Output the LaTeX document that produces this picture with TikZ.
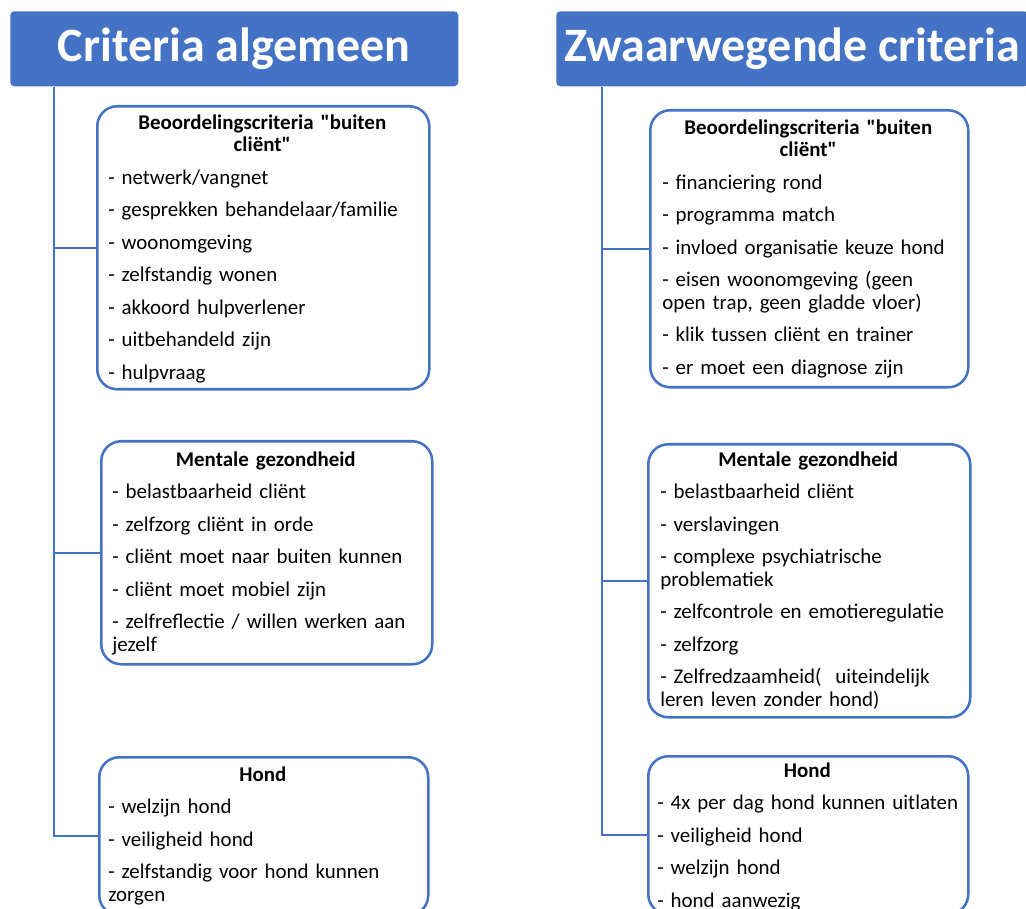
\documentclass[tikz,border=0pt]{standalone}
\usepackage{fontspec}
\setmainfont{Carlito}[Ligatures=TeXOff]
\usetikzlibrary{calc}
\definecolor{accent}{HTML}{4472C4}
\begin{document}
\begin{tikzpicture}[x=0.75pt,y=-0.75pt,
 head/.style={fill=accent, rounded corners=3pt, text=white, font=\fontsize{36}{40}\selectfont\bfseries, inner sep=0, anchor=north west},
 card/.style={draw=accent, line width=1.9pt, fill=white, rounded corners=15pt, anchor=north west, inner sep=0},
 txt/.style={anchor=north west, inner sep=0, align=left, font=\fontsize{15.7}{16.875}\selectfont,
   execute at begin node={\setlength{\parskip}{7.5pt}\setlength{\parindent}{0pt}\hyphenpenalty=10000\exhyphenpenalty=10000\hfuzz=20pt}},
 conn/.style={draw=accent, line width=1.6pt}]
\useasboundingbox (0,0) rectangle (1026,909);
\clip (0,0) rectangle (1026,909);

% headers
\node[head, minimum width={448*0.75pt}, minimum height={75*0.75pt}] (HL) at (10,11) {\raisebox{-1.5pt}{Criteria algemeen}};
\node[head, minimum width={472*0.75pt}, minimum height={75*0.75pt}] (HR) at (556,11) {\raisebox{-1.5pt}{Zwaarwegende criteria}};

% cards left
\node[card, minimum width={332*0.75pt}, minimum height={283*0.75pt}] (L1) at (96,105) {};
\node[card, minimum width={331*0.75pt}, minimum height={223*0.75pt}] (L2) at (100,440) {};
\node[card, minimum width={329*0.75pt}, minimum height={158*0.75pt}] (L3) at (98,756) {};
% cards right
\node[card, minimum width={318*0.75pt}, minimum height={277*0.75pt}] (R1) at (649,109) {};
\node[card, minimum width={322*0.75pt}, minimum height={273*0.75pt}] (R2) at (647,443) {};
\node[card, minimum width={320*0.75pt}, minimum height={158*0.75pt}] (R3) at (647,755) {};

% texts left
\node[txt, text width={308*0.75pt}] (tL1) at ([shift={(12,8)}]L1.north west) {%
{\centering\bfseries\rule{0pt}{12pt}Beoordelingscriteria "buiten\\cliënt"\par}
- netwerk/vangnet\par
- gesprekken behandelaar/familie\par
- woonomgeving\par
- zelfstandig wonen\par
- akkoord hulpverlener\par
- uitbehandeld zijn\par
- hulpvraag};
\node[txt, text width={307*0.75pt}] (tL2) at ([shift={(12,10)}]L2.north west) {%
{\centering\bfseries\rule{0pt}{12pt}Mentale gezondheid\par}
- belastbaarheid cliënt\par
- zelfzorg cliënt in orde\par
- cliënt moet naar buiten kunnen\par
- cliënt moet mobiel zijn\par
- zelfreflectie / willen werken aan\newline jezelf};
\node[txt, text width={309*0.75pt}] (tL3) at ([shift={(10,9)}]L3.north west) {%
{\centering\bfseries\rule{0pt}{12pt}Hond\par}
- welzijn hond\par
- veiligheid hond\par
- zelfstandig voor hond kunnen\newline zorgen};

% texts right
\node[txt, text width={292*0.75pt}] (tR1) at ([shift={(13,9)}]R1.north west) {%
{\centering\bfseries\rule{0pt}{12pt}Beoordelingscriteria "buiten\\cliënt"\par}
- financiering rond\par
- programma match\par
- invloed organisatie keuze hond\par
- eisen woonomgeving (geen\newline open trap, geen gladde vloer)\par
- klik tussen cliënt en trainer\par
- er moet een diagnose zijn};
\node[txt, text width={296*0.75pt}] (tR2) at ([shift={(13,7)}]R2.north west) {%
{\centering\bfseries\rule{0pt}{12pt}Mentale gezondheid\par}
- belastbaarheid cliënt\par
- verslavingen\par
- complexe psychiatrische\newline problematiek\par
- zelfcontrole en emotieregulatie\par
- zelfzorg\par
- Zelfredzaamheid(\ \ uiteindelijk\newline leren leven zonder hond)};
\node[txt, text width={300*0.75pt}] (tR3) at ([shift={(10,6)}]R3.north west) {%
{\centering\bfseries\rule{0pt}{12pt}Hond\par}
\mbox{- 4x per dag hond kunnen uitlaten}\par
- veiligheid hond\par
- welzijn hond\par
- hond aanwezig};

% connectors
\coordinate (tL) at ($(HL.south west)+(44,0)$);
\coordinate (tR) at ($(HR.south west)+(46,0)$);
\draw[conn] (tL) |- (L3.west);
\draw[conn] (tL |- L1.west) -- (L1.west);
\draw[conn] (tL |- L2.west) -- (L2.west);
\draw[conn] (tR) |- (R3.west);
\draw[conn] (tR |- R1.west) -- (R1.west);
\draw[conn] (tR |- R2.west) -- (R2.west);
\end{tikzpicture}
\end{document}
